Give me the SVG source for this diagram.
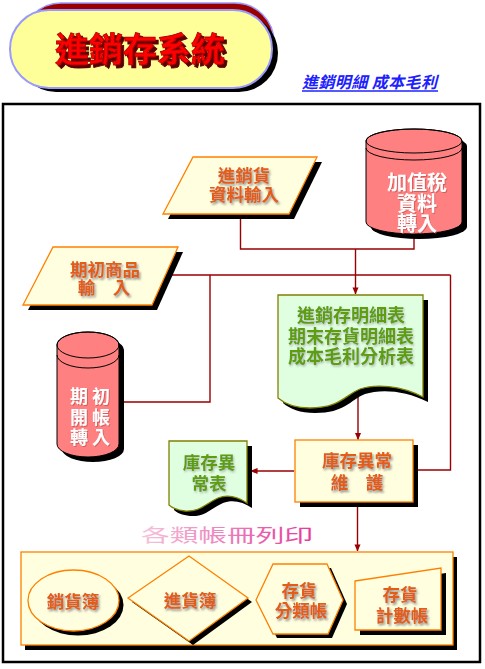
<svg xmlns="http://www.w3.org/2000/svg" width="485" height="669" viewBox="0 0 485 669">
<defs>
<style>
.cjk{font-family:"Noto Sans CJK TC","Noto Sans CJK SC",sans-serif;font-weight:bold;}
.or{fill:#e45c18;font-size:17.5px;text-anchor:middle;filter:url(#sh);}
.gr{fill:#5c9e0a;font-size:18px;text-anchor:middle;filter:url(#shl);}
.wh{fill:#ffffff;text-anchor:middle;filter:url(#shp);}
.inp{fill:#ffffe0;stroke:#ff8000;stroke-width:1.3;}
.doc{fill:#e0ffe0;stroke:#808000;stroke-width:1.3;}
.cyl{fill:#ff8080;stroke:#000;stroke-width:1;}
.shd{fill:#000;}
.ln{fill:none;stroke:#990000;stroke-width:1.4;}
</style>
<filter id="sh" x="-20%" y="-20%" width="140%" height="160%"><feDropShadow dx="1.5" dy="2" stdDeviation="1" flood-color="#777" flood-opacity="0.8"/></filter>
<filter id="shl" x="-20%" y="-20%" width="140%" height="160%"><feDropShadow dx="1" dy="1.5" stdDeviation="0.8" flood-color="#999" flood-opacity="0.7"/></filter>
<filter id="shp" x="-20%" y="-20%" width="140%" height="160%"><feDropShadow dx="1" dy="1" stdDeviation="0.6" flood-color="#cc5555" flood-opacity="0.8"/></filter>
<filter id="tsh" x="-10%" y="-20%" width="120%" height="150%"><feDropShadow dx="3" dy="3" stdDeviation="0.4" flood-color="#5a0000" flood-opacity="1"/></filter>
<marker id="ar" viewBox="0 0 8 8" refX="7.5" refY="4" markerWidth="7" markerHeight="7" orient="auto" markerUnits="userSpaceOnUse">
<path d="M0,0.5 L8,4 L0,7.5 Z" fill="#990000"/>
</marker>
<linearGradient id="pk" x1="0" y1="0" x2="1" y2="0">
<stop offset="0" stop-color="#f6c4dc"/>
<stop offset="1" stop-color="#e4389a"/>
</linearGradient>
</defs>

<!-- Title -->
<g id="title">
<rect x="22" y="3" width="252" height="78" rx="39" fill="#990000" stroke="#9999ff" stroke-width="1.5"/>
<rect x="17" y="14" width="261" height="78" rx="39" fill="#000"/>
<rect x="10" y="10" width="262" height="78" rx="39" fill="#ffff99" stroke="#9999ff" stroke-width="2"/>
<text x="140" y="62" class="cjk" font-size="34" text-anchor="middle" fill="#ff0000" stroke="#b00000" stroke-width="0.8" filter="url(#tsh)">進銷存系統</text>
</g>

<g id="subtitle">
<text x="302" y="88" class="cjk" font-size="16" font-style="italic" fill="#2020ff" textLength="135" lengthAdjust="spacing">進銷明細 成本毛利</text>
<line x1="302" y1="91" x2="438" y2="91" stroke="#2020ff" stroke-width="1.5"/>
</g>

<!-- Frame -->
<rect x="3" y="104" width="477" height="558" fill="none" stroke="#000" stroke-width="2.5"/>

<!-- Connectors -->
<g id="connectors">
<polyline class="ln" points="240.5,214 240.5,249 414,249 414,234"/>
<line class="ln" x1="355.5" y1="249" x2="355.5" y2="294" marker-end="url(#ar)"/>
<line class="ln" x1="165" y1="275" x2="450.5" y2="275"/>
<polyline class="ln" points="210,275 210,402 123,402"/>
<polyline class="ln" points="450.5,275 450.5,470 413,470"/>
<line class="ln" x1="358" y1="396" x2="358" y2="439.5" marker-end="url(#ar)"/>
<line class="ln" x1="294" y1="471" x2="251" y2="471" marker-end="url(#ar)"/>
<line class="ln" x1="357.5" y1="502" x2="357.5" y2="551" marker-end="url(#ar)"/>
</g>

<!-- Input 1 -->
<g id="n-input-sales">
<polygon class="shd" points="198,162 322,162 294,219 168,219"/>
<polygon class="inp" points="193,157 317,157 289,214 163,214"/>
<text class="cjk or"><tspan x="244" y="182">進銷貨</tspan><tspan x="244" y="201">資料輸入</tspan></text>
</g>

<!-- VAT cylinder -->
<g id="n-vat">
<path class="shd" d="M371,146 A48,12 0 0 1 467,146 V227 A48,12 0 0 1 371,227 Z"/>
<path class="cyl" d="M366,141 A48,12 0 0 1 462,141 V222 A48,12 0 0 1 366,222 Z"/>
<ellipse cx="414" cy="141" rx="48" ry="12" fill="none" stroke="#000"/>
<path d="M366,148 A48,12 0 0 0 462,148" fill="none" stroke="#000"/>
<text class="cjk wh" font-size="20"><tspan x="417" y="190">加值稅</tspan><tspan x="417" y="211">資料</tspan><tspan x="417" y="231">轉入</tspan></text>
</g>

<!-- Input 2 -->
<g id="n-input-initial">
<polygon class="shd" points="58,252 183,252 157,310 28,310"/>
<polygon class="inp" points="53,247 178,247 152,305 23,305"/>
<text class="cjk or"><tspan x="105" y="276">期初商品</tspan><tspan x="104" y="294">輸　入</tspan></text>
</g>

<!-- Initial cylinder -->
<g id="n-opening">
<path class="shd" d="M62,350 A31,13 0 0 1 124,350 V449 A31,13 0 0 1 62,449 Z"/>
<path class="cyl" d="M57,345 A31,13 0 0 1 119,345 V444 A31,13 0 0 1 57,444 Z"/>
<ellipse cx="88" cy="345" rx="31" ry="13" fill="none" stroke="#000"/>
<path d="M57,355 A31,13 0 0 0 119,355" fill="none" stroke="#000"/>
<text class="cjk wh" font-size="18" letter-spacing="4" style="text-anchor:start"><tspan x="70" y="403">期初</tspan><tspan x="70" y="424">開帳</tspan><tspan x="70" y="444">轉入</tspan></text>
</g>

<!-- Report doc -->
<g id="n-report">
<path class="shd" d="M283,300 H428 V402 C405,390 380,389 365,394 C350,400 345,413 315,413 C300,413 290,409 283,403 Z"/>
<path class="doc" d="M278,295 H423 V397 C400,385 375,384 360,389 C345,395 340,408 310,408 C295,408 285,404 278,398 Z"/>
<text class="cjk gr"><tspan x="351" y="322">進銷存明細表</tspan><tspan x="351" y="343">期末存貨明細表</tspan><tspan x="351" y="363">成本毛利分析表</tspan></text>
</g>

<!-- Maintenance box -->
<g id="n-maint">
<rect class="shd" x="300" y="445" width="118" height="62"/>
<rect class="inp" x="295" y="440" width="118" height="62"/>
<text class="cjk or"><tspan x="357" y="467">庫存異常</tspan><tspan x="357" y="489">維　護</tspan></text>
</g>

<!-- Exception doc -->
<g id="n-exception">
<path class="shd" d="M174,446 H252 V508 C243,502 233,499 223,503 C210,509 205,517 190,516 C182,515 177,513 174,510 Z"/>
<path class="doc" d="M169,441 H247 V503 C238,497 228,494 218,498 C205,504 200,512 185,511 C177,510 172,508 169,505 Z"/>
<text class="cjk gr" style="font-size:17.5px"><tspan x="209" y="469">庫存異</tspan><tspan x="209" y="490">常表</tspan></text>
</g>

<!-- Print label -->
<g id="label-print">
<text x="227" y="542" font-family="'Noto Sans CJK TC',sans-serif" font-size="18" text-anchor="middle" fill="url(#pk)" textLength="172" lengthAdjust="spacingAndGlyphs">各類帳冊列印</text>
<line x1="141" y1="545" x2="313" y2="545" stroke="url(#pk)" stroke-width="1.2"/>
</g>

<!-- Container -->
<g id="n-print-group">
<rect class="shd" x="25" y="557" width="432" height="93"/>
<rect class="inp" x="21" y="552" width="432" height="93"/>
</g>

<g id="n-sales-book">
<ellipse class="shd" cx="78" cy="605" rx="45.5" ry="30.5"/>
<ellipse class="inp" cx="73.5" cy="600.5" rx="45.5" ry="30.5"/>
<text class="cjk or" x="73" y="608">銷貨簿</text>
</g>

<g id="n-purchase-book">
<polygon class="shd" points="132,602 193,560 252,602 193,645"/>
<polygon class="inp" points="128,598 189,556 248,598 189,641"/>
<text class="cjk or" x="190" y="607">進貨簿</text>
</g>

<g id="n-class-ledger">
<polygon class="shd" points="260,604 277,568 331,568 347,604 332,638 277,638"/>
<polygon class="inp" points="256,600 273,564 327,564 343,600 328,634 273,634"/>
<text class="cjk or"><tspan x="299" y="597">存貨</tspan><tspan x="301" y="617">分類帳</tspan></text>
</g>

<g id="n-count-ledger">
<polygon class="shd" points="360,586 446,573 446,635 360,635"/>
<polygon class="inp" points="355,581 441,568 441,630 355,630"/>
<text class="cjk or"><tspan x="400" y="601">存貨</tspan><tspan x="402" y="622">計數帳</tspan></text>
</g>
</svg>
